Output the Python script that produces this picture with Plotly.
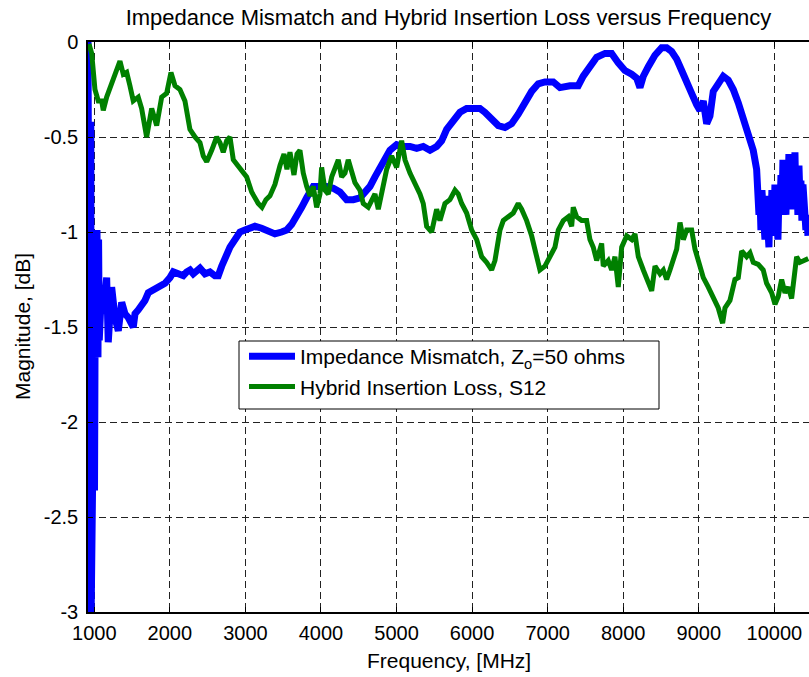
import plotly.graph_objects as go

# Impedance mismatch (|Gamma| loss) for Zo = 50 ohms, frequency in MHz, magnitude in dB
mismatch_freq = [
    917, 925, 935, 943, 954, 959, 970, 977, 989, 1003, 1016, 1022, 1036, 1049, 1057, 1066,
    1089, 1119, 1164, 1185, 1230, 1274, 1318, 1363, 1406, 1450, 1516, 1539, 1582, 1627, 1671,
    1715, 1760, 1826, 1892, 1936, 2002, 2046, 2112, 2178, 2223, 2267, 2310, 2399, 2465, 2531,
    2597, 2641, 2686, 2730, 2796, 2862, 2928, 2994, 3061, 3127, 3215, 3303, 3391, 3480, 3546,
    3612, 3679, 3745, 3811, 3898, 3987, 4076, 4163, 4252, 4340, 4428, 4516, 4582, 4649, 4715,
    4781, 4847, 4913, 5002, 5089, 5178, 5267, 5354, 5443, 5531, 5597, 5664, 5751, 5840, 5928,
    6016, 6104, 6170, 6259, 6347, 6435, 6524, 6611, 6700, 6788, 6876, 6964, 7074, 7163, 7295,
    7405, 7471, 7560, 7649, 7759, 7847, 7935, 8023, 8112, 8178, 8222, 8266, 8332, 8420, 8509,
    8575, 8641, 8708, 8774, 8840, 8906, 8972, 9016, 9060, 9105, 9148, 9192, 9258, 9324, 9390,
    9457, 9523, 9589, 9655, 9721, 9766,
    9783, 9797, 9810, 9823, 9836, 9850, 9863, 9876, 9889, 9902, 9916, 9929, 9942, 9955, 9968,
    9982, 9995, 10008, 10021, 10035, 10048, 10061, 10074, 10088, 10101, 10114, 10127, 10140,
    10154, 10167, 10180, 10193, 10207, 10220, 10233, 10246, 10260, 10273, 10286, 10299, 10312,
    10326, 10339, 10352, 10365, 10379, 10392, 10405, 10418, 10432, 10445,
]
mismatch_db = [
    0.0, -3.0, -0.42, -3.0, -0.42, -3.0, -0.83, -2.36, -0.99, -2.36, -0.99, -1.66, -0.99, -1.66,
    -1.04, -1.57, -1.36, -1.43, -1.24, -1.58, -1.29, -1.45, -1.52, -1.37, -1.43, -1.45, -1.50,
    -1.43, -1.41, -1.39, -1.36, -1.32, -1.31, -1.29, -1.28, -1.27, -1.24, -1.21, -1.22, -1.23,
    -1.21, -1.20, -1.22, -1.19, -1.22, -1.21, -1.23, -1.23, -1.18, -1.13, -1.08, -1.04, -1.00,
    -0.99, -0.98, -0.97, -0.98, -1.00, -1.01, -1.00, -0.99, -0.96, -0.92, -0.87, -0.82, -0.76,
    -0.76, -0.76, -0.77, -0.79, -0.83, -0.83, -0.82, -0.79, -0.76, -0.71, -0.66, -0.61, -0.57,
    -0.54, -0.55, -0.55, -0.56, -0.55, -0.57, -0.55, -0.52, -0.46, -0.41, -0.37, -0.35, -0.35,
    -0.35, -0.37, -0.41, -0.44, -0.45, -0.43, -0.38, -0.32, -0.26, -0.22, -0.21, -0.21, -0.24,
    -0.23, -0.23, -0.18, -0.13, -0.08, -0.06, -0.06, -0.11, -0.15, -0.17, -0.19, -0.24, -0.18,
    -0.13, -0.07, -0.03, -0.03, -0.05, -0.09, -0.15, -0.22, -0.27, -0.33, -0.36, -0.31, -0.43,
    -0.39, -0.26, -0.22, -0.18, -0.20, -0.25, -0.32, -0.41, -0.48, -0.57, -0.67,
    -0.75, -0.91, -0.81, -0.99, -0.78, -0.94, -0.83, -1.04, -0.81, -0.96, -0.86, -1.08, -0.83,
    -0.96, -0.78, -0.91, -1.02, -0.75, -0.94, -0.83, -1.04, -0.81, -0.91, -0.70, -0.88, -0.62,
    -0.86, -0.67, -0.91, -0.65, -0.83, -0.59, -0.81, -0.67, -0.88, -0.70, -0.83, -0.58, -0.86,
    -0.67, -0.91, -0.65, -0.81, -0.73, -0.94, -0.75, -0.88, -0.83, -0.99, -0.91, -1.02,
]

# Hybrid insertion loss S12, frequency in MHz, magnitude in dB
s12_freq = [
    930, 966, 1009, 1053, 1098, 1119, 1164, 1230, 1274, 1340, 1384, 1429, 1472, 1516, 1582,
    1627, 1693, 1760, 1826, 1892, 1958, 2015, 2068, 2134, 2200, 2266, 2333, 2399, 2443, 2488,
    2554, 2620, 2664, 2707, 2752, 2796, 2840, 2928, 3017, 3083, 3170, 3219, 3272, 3325, 3391,
    3458, 3511, 3550, 3590, 3643, 3683, 3722, 3766, 3811, 3855, 3898, 3943, 3987, 4009, 4053,
    4097, 4142, 4186, 4229, 4274, 4318, 4361, 4406, 4450, 4516, 4560, 4626, 4671, 4715, 4759,
    4803, 4870, 4936, 5002, 5068, 5112, 5178, 5244, 5310, 5354, 5399, 5465, 5531, 5575, 5641,
    5707, 5774, 5817, 5862, 5928, 5995, 6061, 6127, 6193, 6259, 6303, 6369, 6413, 6479, 6545,
    6611, 6656, 6722, 6788, 6855, 6898, 6964, 7031, 7097, 7141, 7207, 7273, 7318, 7339, 7384,
    7450, 7516, 7560, 7604, 7649, 7715, 7736, 7802, 7847, 7891, 7935, 7980, 8046, 8112, 8156,
    8200, 8266, 8311, 8377, 8421, 8487, 8531, 8575, 8619, 8663, 8708, 8752, 8796, 8840, 8906,
    8950, 8994, 9060, 9126, 9192, 9258, 9316, 9347, 9413, 9479, 9523, 9568, 9634, 9678, 9721,
    9787, 9853, 9898, 9965, 10009, 10052, 10097, 10141, 10185, 10229, 10295, 10339, 10383, 10449,
]
s12_db = [
    -0.01, -0.06, -0.25, -0.31, -0.31, -0.36, -0.29, -0.22, -0.18, -0.10, -0.17, -0.16, -0.23,
    -0.31, -0.29, -0.35, -0.50, -0.35, -0.44, -0.29, -0.27, -0.16, -0.23, -0.25, -0.31, -0.46,
    -0.50, -0.53, -0.60, -0.63, -0.57, -0.50, -0.53, -0.58, -0.52, -0.50, -0.62, -0.67, -0.71,
    -0.79, -0.85, -0.87, -0.83, -0.81, -0.75, -0.65, -0.59, -0.67, -0.58, -0.70, -0.59, -0.57,
    -0.69, -0.76, -0.81, -0.76, -0.87, -0.80, -0.66, -0.78, -0.80, -0.71, -0.67, -0.62, -0.71,
    -0.69, -0.62, -0.69, -0.74, -0.78, -0.85, -0.87, -0.83, -0.80, -0.88, -0.80, -0.67, -0.60,
    -0.66, -0.52, -0.62, -0.69, -0.74, -0.80, -0.85, -0.97, -1.00, -0.88, -0.94, -0.85, -0.83,
    -0.78, -0.80, -0.85, -0.90, -0.99, -1.04, -1.13, -1.16, -1.20, -1.15, -0.99, -0.94, -0.92,
    -0.90, -0.85, -0.88, -0.94, -1.02, -1.13, -1.20, -1.18, -1.13, -1.08, -0.99, -0.94, -0.92,
    -0.97, -0.87, -0.92, -0.94, -0.94, -1.04, -1.08, -1.15, -1.06, -1.18, -1.15, -1.20, -1.13,
    -1.29, -1.08, -1.02, -1.04, -1.01, -1.13, -1.20, -1.24, -1.31, -1.18, -1.22, -1.20, -1.25,
    -1.20, -1.15, -1.09, -0.95, -1.04, -0.99, -0.99, -1.09, -1.15, -1.24, -1.29, -1.34, -1.40,
    -1.48, -1.40, -1.36, -1.25, -1.24, -1.10, -1.13, -1.11, -1.16, -1.17, -1.20, -1.27, -1.32,
    -1.38, -1.34, -1.25, -1.32, -1.29, -1.35, -1.13, -1.16, -1.15, -1.14,
]

# Axis ticks
freq_ticks = [1000, 2000, 3000, 4000, 5000, 6000, 7000, 8000, 9000, 10000]
freq_tick_labels = ["1000", "2000", "3000", "4000", "5000", "6000", "7000", "8000", "9000", "10000"]
db_ticks = [0, -0.5, -1, -1.5, -2, -2.5, -3]
db_tick_labels = ["0", "-0.5", "-1", "-1.5", "-2", "-2.5", "-3"]

FONT = "Liberation Sans, Arial, Helvetica, sans-serif"
W, H = 809, 677
ML, MR, MT, MB = 88, 0, 42, 65
plot_w = W - ML - MR
plot_h = H - MT - MB


def px_x(px):
    """Horizontal pixel position -> paper fraction of the plot area."""
    return (px - ML) / plot_w


def px_y(py):
    """Vertical pixel position (from top) -> paper fraction of the plot area."""
    return (H - MB - py) / plot_h


fig = go.Figure()
fig.add_trace(go.Scatter(
    x=mismatch_freq, y=mismatch_db, mode="lines",
    name="Impedance Mismatch, Z<sub>o</sub>=50 ohms",
    line=dict(color="#0000FF", width=7),
))
fig.add_trace(go.Scatter(
    x=s12_freq, y=s12_db, mode="lines",
    name="Hybrid Insertion Loss, S12",
    line=dict(color="#008000", width=5),
))

axis_common = dict(
    showline=True, linecolor="black", linewidth=1.5,
    ticks="inside", ticklen=5, tickcolor="black", tickwidth=1,
    showgrid=True, gridcolor="#222222", gridwidth=1, griddash="7px,4px",
    zeroline=False,
    tickfont=dict(family=FONT, size=20, color="black"),
)

fig.update_xaxes(
    range=[917, 10459], tickvals=freq_ticks, ticktext=freq_tick_labels,
    mirror="ticks", ticklabelstandoff=2, **axis_common,
)
fig.update_yaxes(
    range=[-3, 0], tickvals=db_ticks, ticktext=db_tick_labels,
    mirror=False, ticklabelstandoff=4, **axis_common,
)

fig.update_layout(
    width=W, height=H,
    margin=dict(l=ML, r=MR, t=MT, b=MB, pad=0),
    paper_bgcolor="white", plot_bgcolor="white",
    font=dict(family=FONT, color="black"),
    title=dict(
        text="Impedance Mismatch and Hybrid Insertion Loss versus Frequency",
        font=dict(family=FONT, size=22, color="black"),
        x=0.5, xref="paper", xanchor="center",
        y=1 - 17 / H, yref="container", yanchor="middle",
    ),
    showlegend=True,
    legend=dict(
        x=px_x(244), xanchor="left",
        y=px_y(336), yanchor="top",
        bgcolor="rgba(0,0,0,0)", borderwidth=0,
        font=dict(family=FONT, size=21, color="black"),
        itemwidth=46,
    ),
    shapes=[
        # legend frame
        dict(type="rect", xref="paper", yref="paper", layer="above",
             x0=px_x(239), x1=px_x(659), y0=px_y(409), y1=px_y(341),
             fillcolor="white", line=dict(color="black", width=1)),
    ],
    annotations=[
        dict(text="Frequency, [MHz]", xref="paper", yref="paper",
             x=0.5, y=px_y(660), xanchor="center", yanchor="middle",
             showarrow=False, font=dict(family=FONT, size=21, color="black")),
        dict(text="Magnitude, [dB]", xref="paper", yref="paper",
             x=px_x(22), y=0.5, xanchor="center", yanchor="middle",
             textangle=-90, showarrow=False,
             font=dict(family=FONT, size=21, color="black")),
    ],
)

fig.write_html("out.html")
